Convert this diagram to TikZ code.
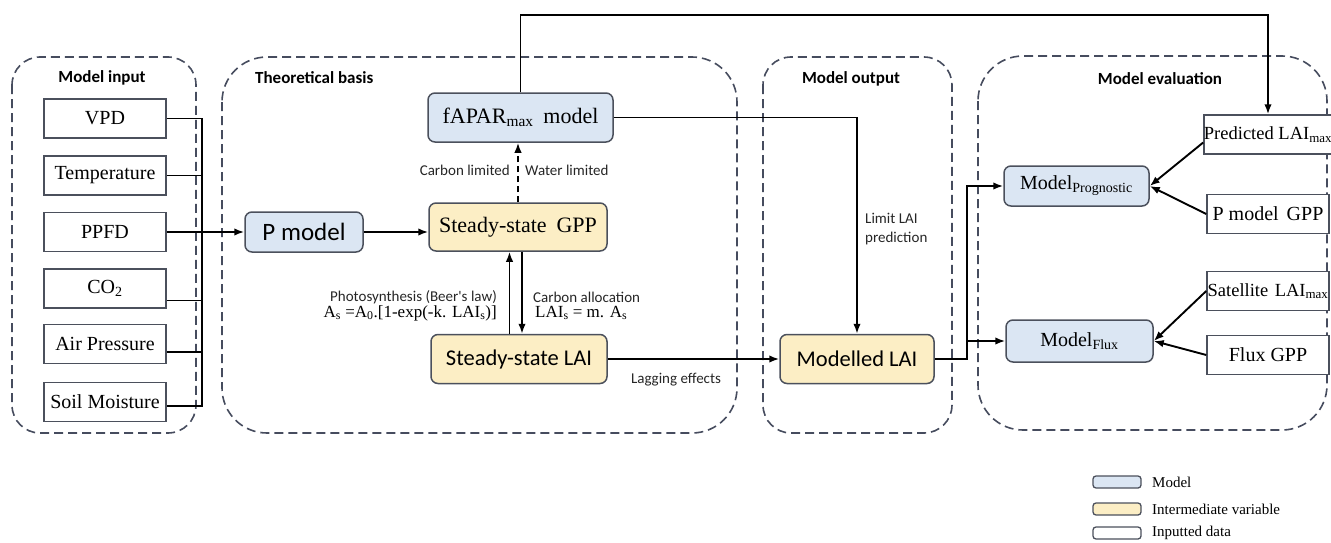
\documentclass[tikz,border=0pt]{standalone}
\usepackage{fontspec}
\setmainfont{Liberation Serif}
\newfontfamily\calib{Carlito}
\usetikzlibrary{arrows.meta,calc}
\definecolor{mblue}{RGB}{219,230,243}
\definecolor{myellow}{RGB}{252,238,197}
\definecolor{bord}{RGB}{75,80,92}
\definecolor{grp}{RGB}{70,76,94}
\begin{document}
\begin{tikzpicture}[x=1pt,y=-1pt,
 grpbox/.style={draw=grp, line width=1.6pt, dash pattern=on 9pt off 5pt, rounded corners=#1},
 inbox/.style={draw=bord, line width=1.5pt, fill=white, minimum width=122pt, minimum height=39pt, inner sep=0pt, font=\fontsize{20}{24}\selectfont},
 evbox/.style={inbox, font=\fontsize{19}{23}\selectfont},
 modbox/.style={draw=bord, line width=1.5pt, fill=mblue, rounded corners=7pt, inner sep=0pt},
 varbox/.style={draw=bord, line width=1.5pt, fill=myellow, rounded corners=7pt, inner sep=0pt},
 conn/.style={draw=black, line width=1.9pt},
 arr/.style={conn, -{Latex[length=10pt,width=7.5pt]}},
 lbl/.style={font=\calib\fontsize{15}{18}\selectfont, inner sep=0pt, text=black!85},
 ttl/.style={font=\calib\bfseries\fontsize{17}{20}\selectfont, inner sep=0pt},
 leg/.style={line width=1.3pt, rounded corners=3pt, minimum width=48pt, minimum height=12pt, inner sep=0pt},
 legtxt/.style={anchor=west, inner sep=0pt, font=\fontsize{15}{18}\selectfont},
]
\useasboundingbox (0,0) rectangle (1331,543);

% groups
\draw[grpbox=28pt] (12,57) rectangle (196,433);
\draw[grpbox=45pt] (222,57) rectangle (737,433);
\draw[grpbox=28pt] (763,57) rectangle (952,433);
\draw[grpbox=45pt] (978,56) rectangle (1327,430);

\node[ttl] (t1) at (102,78) {Model input};
\node[ttl, anchor=west] (t2) at (255,78) {Theoretical basis};
\node[ttl] (t3) at (851,79) {Model output};
\node[ttl] (t4) at (1160,79) {Model evaluation};

% inputs
\node[inbox] (vpd) at (105,118.5) {VPD};
\node[inbox] (temp) at (105,175.5) {Temperature};
\node[inbox] (ppfd) at (105,232) {PPFD};
\node[inbox] (co2) at (105,288.5) {CO\textsubscript{2}};
\node[inbox] (air) at (105,344) {Air Pressure};
\node[inbox] (soil) at (105,402) {Soil Moisture};

% theoretical basis
\node[modbox, minimum width=118pt, minimum height=40pt, font=\calib\fontsize{25}{30}\selectfont] (pm) at (304,232) {P model};
\node[modbox, minimum width=185pt, minimum height=49pt, font=\fontsize{22}{26}\selectfont] (fapar) at (520.5,117.5) {fAPAR\textsubscript{max}\hspace{0.45em}model};
\node[varbox, minimum width=178pt, minimum height=48pt, font=\fontsize{22}{26}\selectfont] (gpp) at (518,227) {Steady-state\hspace{0.45em}GPP};
\node[varbox, minimum width=176pt, minimum height=49pt, font=\calib\fontsize{22.5}{27}\selectfont] (lai) at (519,359) {Steady-state LAI};

% output
\node[varbox, minimum width=154pt, minimum height=49pt, font=\calib\fontsize{22.5}{27}\selectfont] (mlai) at (857,359) {Modelled LAI};

% evaluation
\node[modbox, minimum width=145pt, minimum height=40pt, font=\fontsize{20}{24}\selectfont] (mprog) at (1076.5,186) {Model\textsubscript{Prognostic}};
\node[modbox, minimum width=147pt, minimum height=42pt, font=\fontsize{20}{24}\selectfont] (mflux) at (1079.5,341) {Model\textsubscript{Flux}};
\node[evbox, font=\fontsize{18.5}{22}\selectfont] (pred) at (1268,134.5) {Predicted LAI\textsubscript{max}};
\node[evbox, font=\fontsize{20}{24}\selectfont] (pgpp) at (1268,214) {P model\hspace{0.4em}GPP};
\node[evbox, font=\fontsize{18.5}{22}\selectfont] (sat) at (1268,291) {Satellite\hspace{0.35em}LAI\textsubscript{max}};
\node[evbox, font=\fontsize{20}{24}\selectfont] (fgpp) at (1268,355) {Flux GPP};

% labels
\node[lbl, anchor=east] (cl) at (510,170) {Carbon limited};
\node[lbl, anchor=west] (wl) at (525,170) {Water limited};
\node[lbl, anchor=east] (ph) at (497,297) {Photosynthesis (Beer's law)};
\node[anchor=east, inner sep=0pt, font=\fontsize{17}{20}\selectfont] (phf) at (497,313) {A\textsubscript{s} =A\textsubscript{0}.[1-exp(-k. LAI\textsubscript{s})]};
\node[lbl, anchor=west] (ca) at (533,297) {Carbon allocation};
\node[anchor=west, inner sep=0pt, font=\fontsize{17}{20}\selectfont] (caf) at (535,313) {LAI\textsubscript{s} = m. A\textsubscript{s}};
\node[lbl] (lag) at (676,380) {Lagging effects};
\node[lbl, anchor=west, align=left] (lim) at (865,229.5) {Limit LAI\\[1pt]prediction};

% input bus
\coordinate (busT) at (202,118.5);
\coordinate (busB) at (202,406);
\draw[conn] (vpd.east) -- (busT) -- (busB) -- ([yshift=-4pt]soil.east);
\draw[conn] (temp.east) -- (temp.east -| busT);
\draw[conn] (ppfd.east) -- (ppfd.east -| busT);
\draw[conn] ([yshift=-12pt]co2.east) -- ([yshift=-12pt]co2.east -| busT);
\draw[conn] ([yshift=-8pt]air.east) -- ([yshift=-8pt]air.east -| busT);
\draw[arr] (pm.west -| busT) -- (pm.west);

% theoretical connectors
\draw[arr] (pm.east) -- (pm.east -| gpp.west);
\draw[arr, dash pattern=on 6pt off 4pt] (gpp.north) -- (gpp.north |- fapar.south);
\draw[arr] ([xshift=-9.5pt]lai.north) -- ([xshift=-9.5pt]lai.north |- gpp.south);
\draw[arr] ([xshift=3pt]gpp.south -| lai.north) -- ([xshift=3pt]lai.north);
\draw[arr] (lai.east) -- (mlai.west);
\draw[arr] (fapar.east) -| (mlai.north);

% top feedback
\coordinate (topy) at (0,15);
\draw[arr] (fapar.north) -- (fapar.north |- topy) -| (pred.north);

% output to evaluation
\coordinate (jx) at (967,0);
\draw[arr] (mlai.east) -- (mlai.east -| jx) |- (mprog.west);
\draw[arr] (mflux.west -| jx) -- (mflux.west);

\draw[arr] ([yshift=-8pt]pred.west) -- (mprog.east);
\draw[arr] (pgpp.west) -- (mprog.east);
\draw[arr] (sat.west) -- (mflux.east);
\draw[arr] (fgpp.west) -- (mflux.east);

% legend
\node[leg, draw=bord, fill=mblue] (lg1) at (1117,482) {};
\node[leg, draw=bord, fill=myellow] (lg2) at (1117,509) {};
\node[leg, draw=bord, fill=white] (lg3) at (1117,533) {};
\node[legtxt] (lt1) at (1152,482) {Model};
\node[legtxt] (lt2) at (1152,509) {Intermediate variable};
\node[legtxt] (lt3) at (1152,533) {Inputted data};
\end{tikzpicture}
\end{document}
